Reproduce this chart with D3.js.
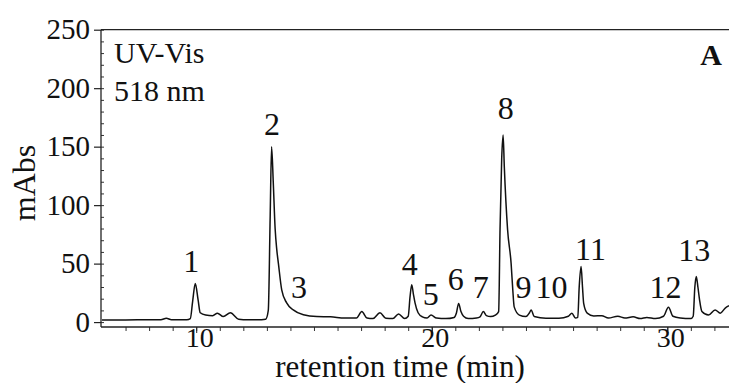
<!DOCTYPE html>
<html>
<head>
<meta charset="utf-8">
<script src="https://cdn.jsdelivr.net/npm/d3@7"></script>
<style>
  body { margin: 0; background: #fff; }
</style>
</head>
<body>
<svg width="729" height="383"></svg>
<script>
// chromatogram: retention time (min) and signal (mAbs)
var times = [6.0, 7.0, 8.0, 8.5, 8.73, 8.95, 9.6, 9.75, 9.85, 9.96, 10.08, 10.17, 10.4, 10.7, 10.9, 11.15, 11.45, 11.8, 12.2, 12.6,
  12.95, 13.06, 13.14, 13.2, 13.27, 13.35, 13.42, 13.49, 13.63, 13.84, 14.12, 14.55, 15.12, 15.7, 16.3, 16.8, 17.03, 17.25, 17.5, 17.8,
  18.05, 18.35, 18.59, 18.85, 19.0, 19.08, 19.15, 19.22, 19.29, 19.42, 19.6, 19.8, 19.97, 20.2, 20.6, 20.95, 21.05, 21.14, 21.24, 21.35,
  21.55, 21.9, 22.05, 22.19, 22.32, 22.5, 22.7, 22.84, 22.9, 22.97, 23.03, 23.08, 23.22, 23.37, 23.44, 23.5, 23.72, 24.0, 24.15, 24.22,
  24.35, 24.85, 25.4, 25.8, 25.95, 26.1, 26.2, 26.26, 26.34, 26.4, 26.45, 26.6, 26.88, 27.22, 27.5, 27.9, 28.2, 28.55, 28.85, 29.13,
  29.5, 29.84, 30.05, 30.24, 30.55, 31.0, 31.1, 31.17, 31.23, 31.3, 31.37, 31.47, 31.75, 32.03, 32.25, 32.46, 32.62];
var signal = [1.8, 1.8, 2.0, 2.0, 3.3, 2.0, 2.0, 3, 18, 33, 19, 8, 6, 5.5, 7.6, 4.7, 8, 2.5, 2, 2,
  2.5, 10, 90, 150, 120, 80, 62, 50, 27.5, 16.4, 10.4, 6.2, 4.7, 4.5, 3.5, 3.5, 9, 3.5, 3, 8,
  3.2, 3, 7, 3, 5, 22, 32, 24, 16.4, 8, 4.5, 3.5, 6, 3.5, 3, 4, 8, 16, 9, 5,
  3, 3.5, 4.5, 9, 5.5, 4.7, 6, 9, 80, 140, 160, 133, 79, 50, 27.6, 13, 6, 4.7, 8, 10.4,
  4.7, 3.3, 3.3, 5, 7.6, 3.5, 4, 30, 47.5, 30, 16, 7.7, 5.3, 5.5, 3.5, 5, 3.5, 4.5, 3, 4,
  3, 5, 12.7, 5, 3.5, 3, 5, 30, 39, 30, 19, 9, 6, 10.4, 7.6, 12, 14];

// peak numbers and where their labels sit (time, mAbs of the baseline of the text)
var peakNames = ["1", "2", "3", "4", "5", "6", "7", "8", "9", "10", "11", "12", "13"];
var peakTimes = [9.79, 13.22, 14.36, 19.07, 19.96, 21.02, 22.08, 23.14, 23.9, 25.08, 26.74, 29.92, 31.14];
var peakLabelY = [43, 160, 20.7, 40, 14.7, 27.5, 20.7, 174, 20.7, 20.7, 53, 20.7, 52];

var xTicks = [10, 20, 30];
var yTicks = [0, 50, 100, 150, 200, 250];

var serif = "'Liberation Serif', 'Times New Roman', Times, Tinos, 'Nimbus Roman', 'Noto Serif', 'DejaVu Serif', FreeSerif, serif";

var svg = d3.select("svg");

var x = d3.scaleLinear().domain([6, 32.62]).range([102, 729]),
    y = d3.scaleLinear().domain([-4.2, 250]).range([327, 29.7]);
// scales matched to the tick positions of the picture

svg.append("rect").attr("width", 729).attr("height", 383).attr("fill", "#fff");

// y axis: major ticks out, labels at 50 steps
var gy = svg.append("g")
    .attr("transform", "translate(101,0)")
    .call(d3.axisLeft(y).tickValues(yTicks).tickSize(7).tickPadding(4).tickFormat(d3.format("d")));
gy.select(".domain").remove();
gy.selectAll("line").attr("stroke", "#222").attr("stroke-width", 1.2);
gy.selectAll("text")
    .attr("font-size", 29)
    .style("font-family", serif)
    .attr("fill", "#111");

// minor y ticks inside the frame
svg.append("g")
    .attr("transform", "translate(101,0)")
    .call(d3.axisRight(y).tickValues(d3.range(0, 251, 10)).tickSize(3).tickFormat(""))
    .call(function(g) { g.select(".domain").remove(); })
    .selectAll("line").attr("stroke", "#333");

// x axis: minute ticks, labels every 10
var gx = svg.append("g")
    .attr("transform", "translate(0,327)")
    .call(d3.axisBottom(x).tickValues(d3.range(7, 33, 1)).tickSize(4).tickFormat(""));
gx.select(".domain").remove();
gx.selectAll("line").attr("stroke", "#333");

var gx2 = svg.append("g")
    .attr("transform", "translate(0,327)")
    .call(d3.axisBottom(x).tickValues(xTicks).tickSize(6).tickPadding(0).tickFormat(d3.format("d")));
gx2.select(".domain").remove();
gx2.selectAll("line").attr("stroke", "#222");
gx2.selectAll("text")
    .attr("font-size", 28)
    .style("font-family", serif)
    .attr("fill", "#111")
    .attr("dx", 3)
    .attr("dy", "0.5em");

// frame: left, top and bottom lines
svg.append("line").attr("x1", 101).attr("x2", 101).attr("y1", 29.7).attr("y2", 327)
    .attr("stroke", "#222").attr("stroke-width", 1.3);
svg.append("line").attr("x1", 101).attr("x2", 729).attr("y1", 29.7).attr("y2", 29.7)
    .attr("stroke", "#222").attr("stroke-width", 1.3);
svg.append("line").attr("x1", 101).attr("x2", 729).attr("y1", 327).attr("y2", 327)
    .attr("stroke", "#222").attr("stroke-width", 1.3);

// the trace
svg.append("clipPath").attr("id", "plot")
  .append("rect").attr("x", 101).attr("y", 29).attr("width", 628).attr("height", 298);

var line = d3.line()
    .x(function(d, i) { return x(times[i]); })
    .y(function(d) { return y(d); })
    .curve(d3.curveMonotoneX);

svg.append("path")
    .datum(signal)
    .attr("clip-path", "url(#plot)")
    .attr("fill", "none")
    .attr("stroke", "#111")
    .attr("stroke-width", 1.5)
    .attr("d", line);

// peak numbers
svg.selectAll(".peak")
    .data(peakNames)
  .enter().append("text")
    .attr("class", "peak")
    .attr("x", function(d, i) { return x(peakTimes[i]); })
    .attr("y", function(d, i) { return y(peakLabelY[i]); })
    .attr("text-anchor", "middle")
    .attr("font-size", 32)
    .style("font-family", serif)
    .attr("fill", "#111")
    .text(function(d) { return d; });

// annotations and axis titles
svg.append("text").attr("x", 114).attr("y", 63).attr("font-size", 30)
    .style("font-family", serif).attr("fill", "#111").text("UV-Vis");
svg.append("text").attr("x", 114).attr("y", 101).attr("font-size", 30)
    .style("font-family", serif).attr("fill", "#111").text("518 nm");
svg.append("text").attr("x", 722).attr("y", 65).attr("text-anchor", "end")
    .attr("font-size", 30).attr("font-weight", "bold")
    .style("font-family", serif).attr("fill", "#111").text("A");

svg.append("text")
    .attr("x", 400).attr("y", 377)
    .attr("text-anchor", "middle")
    .attr("font-size", 31)
    .style("font-family", serif)
    .attr("fill", "#111")
    .text("retention time (min)");

svg.append("text")
    .attr("transform", "translate(35,183) rotate(-90)")
    .attr("text-anchor", "middle")
    .attr("font-size", 32)
    .style("font-family", serif)
    .attr("fill", "#111")
    .text("mAbs");
</script>
</body>
</html>
